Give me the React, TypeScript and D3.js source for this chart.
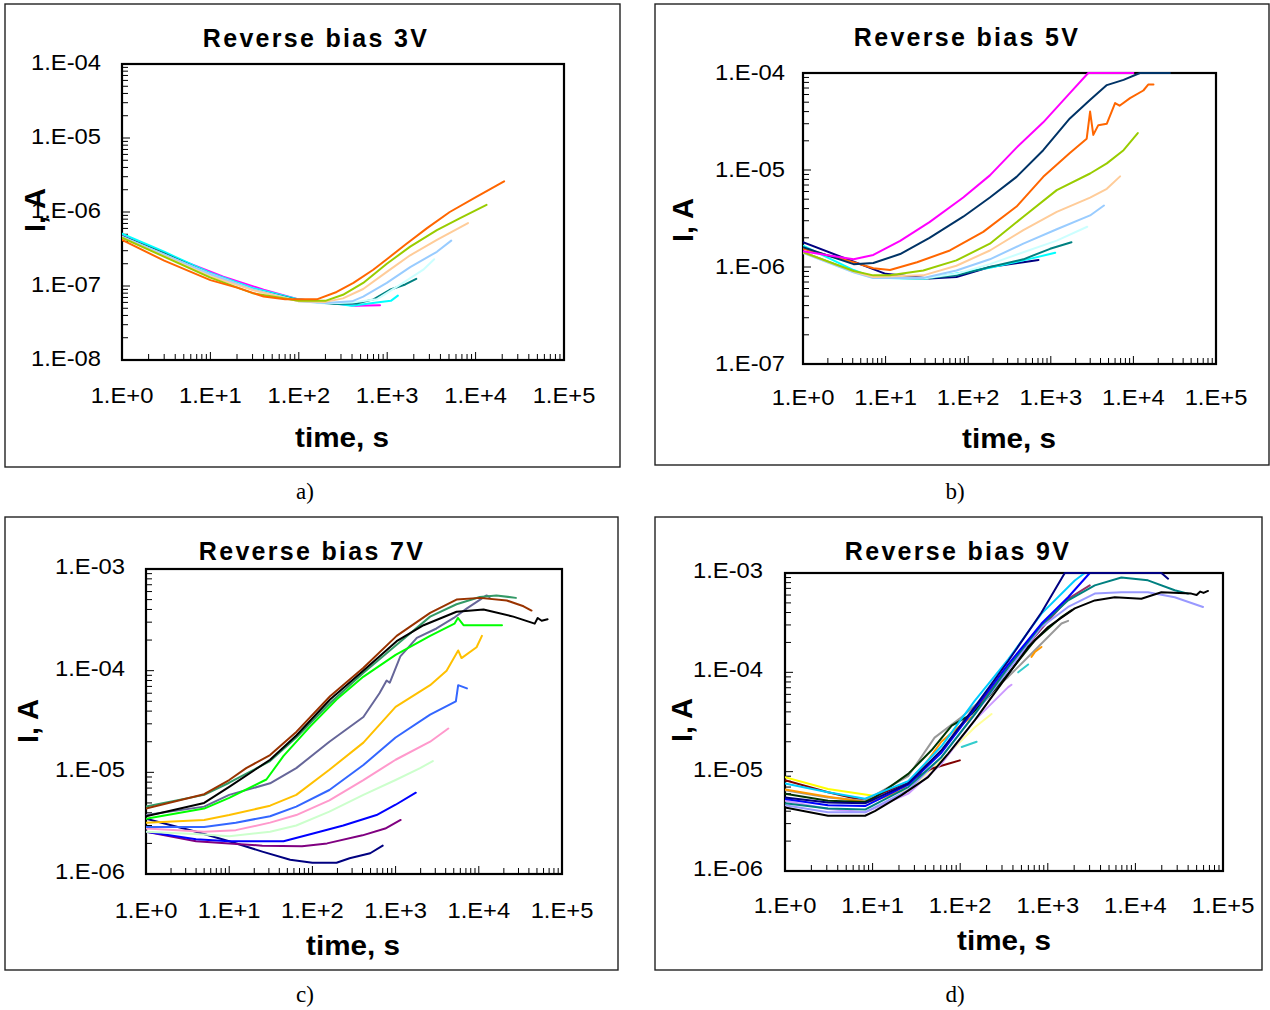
import React from "react";
import * as d3 from "d3";

type Pt = [number, number];

// ---------- tick values / labels ----------
const X_TICKS = [1, 10, 100, 1000, 10000, 100000];
const X_TICK_LABELS = ["1.E+0", "1.E+1", "1.E+2", "1.E+3", "1.E+4", "1.E+5"];
const Y_TICKS_A = [1e-8, 1e-7, 1e-6, 1e-5, 1e-4];
const Y_TICK_LABELS_A = ["1.E-08", "1.E-07", "1.E-06", "1.E-05", "1.E-04"];
const Y_TICKS_B = [1e-7, 1e-6, 1e-5, 1e-4];
const Y_TICK_LABELS_B = ["1.E-07", "1.E-06", "1.E-05", "1.E-04"];
const Y_TICKS_CD = [1e-6, 1e-5, 1e-4, 1e-3];
const Y_TICK_LABELS_CD = ["1.E-06", "1.E-05", "1.E-04", "1.E-03"];

const TITLES = ["Reverse bias 3V", "Reverse bias 5V", "Reverse bias 7V", "Reverse bias 9V"];
const CAPTIONS = ["a)", "b)", "c)", "d)"];
const X_TITLE = "time, s";
const Y_TITLE = "I, A";

// ---------- panel a: reverse bias 3V ----------
const SERIES_A: Pt[][] = [
  [[1, 4.8e-7], [4, 2.4e-7], [14, 1.34e-7], [40, 8.9e-8], [95, 6.7e-8], [200, 6.0e-8], [440, 5.4e-8], [830, 5.5e-8]],
  [[1, 5.1e-7], [3, 2.9e-7], [10, 1.5e-7], [30, 9.4e-8], [100, 6.6e-8], [250, 5.8e-8], [400, 5.4e-8], [760, 6.0e-8], [1100, 6.3e-8], [1320, 7.4e-8]],
  [[1, 4.7e-7], [3, 2.75e-7], [10, 1.45e-7], [30, 9.0e-8], [100, 6.4e-8], [250, 5.7e-8], [450, 5.8e-8], [700, 6.6e-8], [1070, 8.9e-8], [1600, 1.05e-7], [2130, 1.25e-7]],
  [[1, 4.6e-7], [10, 1.45e-7], [30, 9.0e-8], [100, 6.3e-8], [200, 5.8e-8], [400, 6.0e-8], [760, 6.6e-8], [1510, 1.1e-7], [2560, 1.66e-7], [3400, 2.3e-7]],
  [[1, 4.6e-7], [10, 1.45e-7], [30, 9.0e-8], [100, 6.2e-8], [200, 5.9e-8], [400, 6.2e-8], [535, 7.2e-8], [990, 1.1e-7], [1820, 1.8e-7], [3650, 2.9e-7], [5300, 4.1e-7]],
  [[1, 4.5e-7], [10, 1.35e-7], [30, 8.8e-8], [100, 6.2e-8], [200, 6.1e-8], [316, 6.8e-8], [535, 9.1e-8], [990, 1.55e-7], [1820, 2.6e-7], [3650, 4.2e-7], [8200, 7.1e-7]],
  [[1, 4.5e-7], [10, 1.3e-7], [30, 8.0e-8], [100, 6.3e-8], [200, 6.3e-8], [316, 7.6e-8], [535, 1.1e-7], [990, 2.0e-7], [1820, 3.4e-7], [3650, 5.7e-7], [6600, 8.2e-7], [13300, 1.25e-6]],
  [[1, 4.2e-7], [3, 2.2e-7], [10, 1.2e-7], [20, 9.5e-8], [40, 7.2e-8], [70, 6.6e-8], [160, 6.6e-8], [268, 8.3e-8], [415, 1.1e-7], [695, 1.66e-7], [990, 2.3e-7], [1600, 3.6e-7], [2800, 6.0e-7], [5100, 1.0e-6], [10200, 1.6e-6], [21000, 2.6e-6]],
];
const COLORS_A = ["#FF00FF", "#00FFFF", "#008080", "#CCFFFF", "#99CCFF", "#FFCC99", "#99CC00", "#FF6600"];

// ---------- panel b: reverse bias 5V ----------
const SERIES_B: Pt[][] = [
  [[1, 1.8e-6], [10, 8.5e-7], [34, 7.6e-7], [72, 7.9e-7], [183, 1.0e-6], [465, 1.12e-6], [710, 1.18e-6]],
  [[1, 1.66e-6], [4.1, 9.3e-7], [7.1, 7.8e-7], [28.6, 7.5e-7], [183, 9.8e-7], [465, 1.17e-6], [1130, 1.4e-6]],
  [[1, 1.42e-6], [4.1, 9.0e-7], [7.1, 7.8e-7], [28.6, 7.6e-7], [72, 8.2e-7], [183, 1.0e-6], [465, 1.2e-6], [980, 1.54e-6], [1780, 1.8e-6]],
  [[1, 1.4e-6], [4.1, 8.8e-7], [7.1, 7.7e-7], [28.6, 7.6e-7], [72, 8.5e-7], [183, 1.07e-6], [465, 1.42e-6], [1180, 1.87e-6], [2760, 2.6e-6]],
  [[1, 1.4e-6], [4.1, 8.8e-7], [7.1, 7.7e-7], [28.6, 7.7e-7], [72, 9.2e-7], [183, 1.2e-6], [465, 1.74e-6], [1180, 2.45e-6], [2990, 3.4e-6], [4400, 4.3e-6]],
  [[1, 1.42e-6], [4.1, 9.0e-7], [7.1, 7.9e-7], [28.6, 8.2e-7], [72, 1.03e-6], [183, 1.48e-6], [465, 2.4e-6], [1180, 3.7e-6], [2990, 5.2e-6], [4770, 6.4e-6], [6900, 8.6e-6]],
  [[1, 1.42e-6], [4.1, 9.1e-7], [7.1, 8.2e-7], [11.3, 8.2e-7], [28.6, 9.2e-7], [72, 1.17e-6], [183, 1.74e-6], [465, 3.3e-6], [1180, 6.2e-6], [2990, 9.2e-6], [4770, 1.17e-5], [7600, 1.6e-5], [11300, 2.4e-5]],
  [[1, 1.54e-6], [4.1, 1.12e-6], [7.1, 9.7e-7], [11.3, 9.3e-7], [24, 1.12e-6], [60, 1.48e-6], [152, 2.3e-6], [385, 4.2e-6], [810, 8.5e-6], [1700, 1.5e-5], [2720, 2.1e-5], [2990, 4.0e-5], [3270, 2.3e-5], [3760, 2.9e-5], [4770, 3.0e-5], [6000, 4.9e-5], [6800, 4.6e-5], [9100, 5.5e-5], [13200, 6.6e-5], [15100, 7.6e-5], [17500, 7.6e-5]],
  [[1, 1.6e-6], [4.1, 1.07e-6], [7.1, 1.1e-6], [15, 1.36e-6], [34, 2.0e-6], [87, 3.3e-6], [183, 5.2e-6], [385, 8.5e-6], [810, 1.6e-5], [1700, 3.4e-5], [3000, 5.3e-5], [4770, 7.5e-5], [7600, 8.5e-5], [12000, 1e-4], [27700, 1e-4]],
  [[1, 1.45e-6], [4.1, 1.2e-6], [7.1, 1.33e-6], [15, 1.86e-6], [34, 2.9e-6], [87, 5.2e-6], [183, 8.8e-6], [385, 1.7e-5], [810, 3.1e-5], [1700, 6.2e-5], [2840, 1e-4], [10000, 1e-4]],
];
const COLORS_B = ["#000080", "#00FFFF", "#008080", "#CCFFFF", "#99CCFF", "#FFCC99", "#99CC00", "#FF6600", "#003366", "#FF00FF"];

// ---------- panel c: reverse bias 7V ----------
const SERIES_C: Pt[][] = [
  [[1, 3.5e-6], [4, 2.6e-6], [10, 2.1e-6], [25, 1.66e-6], [54, 1.38e-6], [100, 1.29e-6], [195, 1.29e-6], [280, 1.43e-6], [495, 1.6e-6], [700, 1.9e-6]],
  [[1, 2.6e-6], [4, 2.1e-6], [10, 2.0e-6], [25, 1.9e-6], [75, 1.87e-6], [150, 2.0e-6], [400, 2.4e-6], [750, 2.8e-6], [1150, 3.4e-6]],
  [[1, 2.6e-6], [4, 2.2e-6], [10, 2.1e-6], [45, 2.1e-6], [102, 2.5e-6], [235, 3.0e-6], [590, 3.8e-6], [1000, 4.8e-6], [1750, 6.3e-6]],
  [[1, 2.6e-6], [5, 2.45e-6], [10, 2.35e-6], [31, 2.6e-6], [64, 3.0e-6], [160, 4.1e-6], [410, 6.0e-6], [1000, 8.4e-6], [1970, 1.1e-5], [2800, 1.29e-5]],
  [[1, 2.8e-6], [5, 2.6e-6], [12, 2.7e-6], [31, 3.2e-6], [64, 3.8e-6], [160, 5.3e-6], [410, 8.4e-6], [1000, 1.33e-5], [2600, 2.0e-5], [4300, 2.7e-5]],
  [[1, 2.9e-6], [5, 2.9e-6], [12, 3.2e-6], [31, 3.7e-6], [64, 4.6e-6], [160, 6.7e-6], [410, 1.18e-5], [1000, 2.2e-5], [2600, 3.7e-5], [5300, 5.0e-5], [5650, 7.2e-5], [7200, 6.7e-5]],
  [[1, 3.2e-6], [5, 3.4e-6], [10, 3.8e-6], [31, 4.7e-6], [64, 6.0e-6], [160, 1.06e-5], [410, 1.96e-5], [1000, 4.4e-5], [2600, 7.2e-5], [4100, 1.0e-4], [5650, 1.58e-4], [6200, 1.33e-4], [9400, 1.7e-4], [10900, 2.2e-4]],
  [[1, 3.8e-6], [5, 4.6e-6], [10, 6.0e-6], [31, 7.8e-6], [64, 1.1e-5], [160, 2.0e-5], [410, 3.5e-5], [640, 6.0e-5], [780, 8.0e-5], [850, 7.6e-5], [1140, 1.38e-4], [1800, 2.1e-4], [3100, 2.6e-4], [5000, 3.3e-4], [7200, 4.1e-4], [12400, 5.5e-4], [13500, 5.3e-4]],
  [[1, 3.5e-6], [5, 4.4e-6], [10, 5.6e-6], [28, 8.5e-6], [45, 1.45e-5], [93, 2.8e-5], [195, 5.2e-5], [408, 8.7e-5], [1000, 1.43e-4], [2600, 2.2e-4], [5100, 2.9e-4], [5600, 3.3e-4], [6550, 2.8e-4], [11400, 2.8e-4], [19000, 2.8e-4]],
  [[1, 4.6e-6], [5, 6.0e-6], [10, 7.9e-6], [31, 1.29e-5], [64, 2.2e-5], [163, 4.8e-5], [408, 9.5e-5], [1030, 1.8e-4], [2600, 3.4e-4], [5400, 4.5e-4], [10300, 5.3e-4], [16300, 5.5e-4], [27900, 5.2e-4]],
  [[1, 3.7e-6], [5, 5.0e-6], [10, 7.2e-6], [31, 1.33e-5], [64, 2.3e-5], [163, 5.2e-5], [408, 1.0e-4], [1030, 1.95e-4], [2170, 2.8e-4], [5400, 3.8e-4], [11400, 4.0e-4], [26000, 3.4e-4], [47000, 2.9e-4], [51000, 3.3e-4], [57000, 3.1e-4], [67000, 3.2e-4]],
  [[1, 4.4e-6], [5, 6.1e-6], [10, 8.4e-6], [16, 1.1e-5], [31, 1.48e-5], [64, 2.5e-5], [163, 5.6e-5], [408, 1.06e-4], [1030, 2.2e-4], [2600, 3.7e-4], [5400, 5.0e-4], [10300, 5.2e-4], [21700, 4.9e-4], [34500, 4.3e-4], [43000, 3.9e-4]],
];
const COLORS_C = ["#000080", "#800080", "#0000FF", "#CCFFCC", "#FF99CC", "#3366FF", "#FFC000", "#666699", "#00FF00", "#339966", "#000000", "#993300"];

// ---------- panel d: reverse bias 9V ----------
const SERIES_D: Pt[][] = [
  [[1, 8.8e-6], [3.1, 6.7e-6], [8.2, 5.9e-6], [10.6, 5.7e-6]],
  [[10.6, 5.6e-6], [25.5, 6.5e-6], [61, 1.3e-5], [147, 2.8e-5], [228, 3.8e-5]],
  [[1, 8.2e-6], [3.1, 6.2e-6], [8.2, 5.1e-6], [25.5, 7.9e-6], [47, 1.07e-5], [73, 1.2e-5], [99, 1.3e-5]],
  [[1, 5.1e-6], [3.1, 4.2e-6], [8.2, 3.9e-6], [25.5, 6.0e-6], [61, 1.2e-5], [147, 3.3e-5], [353, 7.1e-5], [385, 7.5e-5]],
  [[1, 6.5e-6], [3.1, 5.5e-6], [8.2, 5.1e-6], [25.5, 9.0e-6], [51, 2.2e-5], [104, 3.55e-5], [353, 9.0e-5], [1432, 3.1e-4], [1706, 3.3e-4]],
  [[1, 6.6e-6], [3.1, 5.6e-6], [8.2, 4.95e-6], [10.6, 5.1e-6], [21.4, 6.5e-6], [33, 9.5e-6], [40, 1.2e-5], [61, 2.0e-5], [95, 2.8e-5], [135, 3.55e-5]],
  [[651, 1.43e-4], [711, 1.6e-4], [847, 1.8e-4]],
  [[104, 1.77e-5], [154, 2.0e-5]],
  [[459, 1.0e-4], [597, 1.2e-4]],
  [[147, 4.2e-5], [353, 1.1e-4], [1009, 3.3e-4], [1706, 5.5e-4], [3013, 7.5e-4]],
  [[1, 6.0e-6], [3.1, 5.1e-6], [8.2, 4.95e-6], [10.6, 5.5e-6], [25.5, 9.5e-6], [47, 1.64e-5], [80, 2.9e-5], [135, 3.8e-5], [208, 5.6e-5], [353, 9.7e-5], [711, 2.1e-4], [1432, 3.6e-4], [1862, 4.2e-4]],
  [[1, 7.6e-6], [3.1, 6.2e-6], [8.2, 5.35e-6], [25.5, 8.0e-6], [61, 1.8e-5], [147, 5.2e-5], [353, 1.35e-4], [847, 3.9e-4], [2032, 8.4e-4], [2642, 1e-3]],
  [[1, 4.6e-6], [3.1, 3.9e-6], [8.2, 3.9e-6], [25.5, 6.5e-6], [61, 1.4e-5], [147, 3.8e-5], [353, 1.05e-4], [847, 2.86e-4], [1706, 4.55e-4], [3437, 6.2e-4], [6918, 6.4e-4], [13900, 6.4e-4], [28100, 5.7e-4], [59100, 4.55e-4]],
  [[1, 4.8e-6], [3.1, 4.25e-6], [8.2, 4.15e-6], [25.5, 7.0e-6], [61, 1.4e-5], [147, 3.8e-5], [353, 1.13e-4], [847, 3.0e-4], [1706, 5.3e-4], [3437, 7.5e-4], [6918, 9.0e-4], [13900, 8.44e-4], [28100, 6.7e-4], [39900, 6.2e-4]],
  [[1, 5.3e-6], [3.1, 4.6e-6], [8.2, 4.5e-6], [25.5, 7.4e-6], [61, 1.55e-5], [147, 4.3e-5], [353, 1.2e-4], [847, 3.1e-4], [1706, 5.7e-4], [3013, 1e-3]],
  [[1, 5.5e-6], [3.1, 4.9e-6], [8.2, 4.8e-6], [25.5, 7.6e-6], [61, 1.64e-5], [147, 4.5e-5], [353, 1.3e-4], [847, 4.0e-4], [1563, 1e-3], [19800, 1e-3], [23600, 8.77e-4]],
  [[1, 4.35e-6], [3.1, 3.6e-6], [8.2, 3.6e-6], [10.6, 4.0e-6], [21.4, 5.8e-6], [43, 8.8e-6], [73, 1.52e-5], [147, 3.3e-5], [296, 7.7e-5], [597, 1.8e-4], [1009, 2.86e-4], [2032, 4.4e-4], [3437, 5.3e-4], [5808, 5.7e-4], [11700, 5.5e-4], [19800, 6.4e-4], [43500, 6.2e-4], [50000, 6.0e-4], [55000, 6.5e-4], [60000, 6.3e-4], [67400, 6.6e-4]],
];
const COLORS_D = ["#FFFF00", "#FFFF99", "#800000", "#CC99FF", "#999999", "#FF9900", "#FF9900", "#33CCCC", "#33CCCC", "#993366", "#003300", "#00CCFF", "#9999FF", "#008080", "#0000FF", "#000080", "#000000"];

// ---------- layout ----------
const SANS = "'Liberation Sans', Arial, Helvetica, sans-serif";
const SERIF = "'Liberation Serif', 'Times New Roman', serif";

interface PanelProps {
  id: string;
  box: [number, number, number, number];
  plot: { x0: number; x1: number; y0: number; y1: number };
  yDomain: [number, number];
  yTicks: number[];
  yTickLabels: string[];
  series: Pt[][];
  colors: string[];
  title: string;
  caption: string;
  titlePos: [number, number];
  xTitlePos: [number, number];
  yTitlePos: [number, number];
  captionPos: [number, number];
  yLabelGap: number;
  yLabelDy: number;
  xLabelOffset: number;
}

function SText(props: { x: number; y: number; sx?: number; anchor?: string; size: number; weight?: string; family?: string; spacing?: number; children: React.ReactNode }) {
  const { x, y, sx = 1, anchor = "middle", size, weight = "normal", family = SANS, spacing = 0, children } = props;
  return (
    <g transform={`translate(${x},${y}) scale(${sx},1)`}>
      <text x={0} y={0} textAnchor={anchor} fontSize={size} fontWeight={weight} fontFamily={family} letterSpacing={spacing} fill="#000">
        {children}
      </text>
    </g>
  );
}

function logMinorValues(lo: number, hi: number): { v: number; major: boolean }[] {
  const out: { v: number; major: boolean }[] = [];
  const e0 = Math.round(Math.log10(lo));
  const e1 = Math.round(Math.log10(hi));
  for (let e = e0; e <= e1; e++) {
    for (let m = 1; m <= 9; m++) {
      if (e === e1 && m > 1) break;
      out.push({ v: m * Math.pow(10, e), major: m === 1 });
    }
  }
  return out;
}

function Panel(p: PanelProps) {
  const { plot } = p;
  const x = d3.scaleLog().domain([1, 1e5]).range([plot.x0, plot.x1]);
  const y = d3.scaleLog().domain(p.yDomain).range([plot.y1, plot.y0]);
  const line = d3
    .line<Pt>()
    .x((d) => x(d[0]))
    .y((d) => y(d[1]));
  const xMinor = logMinorValues(1, 1e5);
  const yMinor = logMinorValues(p.yDomain[0], p.yDomain[1]);
  const [bx, by, bw, bh] = p.box;
  return (
    <g>
      <defs>
        <clipPath id={`clip-${p.id}`}>
          <rect x={plot.x0} y={plot.y0 - 1.5} width={plot.x1 - plot.x0} height={plot.y1 - plot.y0 + 1.5} />
        </clipPath>
      </defs>
      <rect x={bx} y={by} width={bw} height={bh} fill="none" stroke="#222" strokeWidth={1.4} />
      <SText x={p.titlePos[0]} y={p.titlePos[1]} size={25} weight="bold" spacing={2.3}>
        {p.title}
      </SText>
      {xMinor.map((t, i) => (
        <line key={`xt${i}`} x1={x(t.v)} x2={x(t.v)} y1={plot.y1} y2={plot.y1 - (t.major ? 8 : 6)} stroke="#000" strokeWidth={1} />
      ))}
      {yMinor.map((t, i) => (
        <line key={`yt${i}`} x1={plot.x0} x2={plot.x0 + (t.major ? 8 : 6)} y1={y(t.v)} y2={y(t.v)} stroke="#000" strokeWidth={1} />
      ))}
      <rect x={plot.x0} y={plot.y0} width={plot.x1 - plot.x0} height={plot.y1 - plot.y0} fill="none" stroke="#000" strokeWidth={2.2} />
      <g clipPath={`url(#clip-${p.id})`}>
        {p.series.map((s, i) => (
          <path key={i} d={line(s) || ""} fill="none" stroke={p.colors[i]} strokeWidth={2} strokeLinejoin="round" strokeLinecap="round" />
        ))}
      </g>
      {X_TICKS.map((t, i) => (
        <SText key={`xl${i}`} x={x(t)} y={plot.y1 + p.xLabelOffset} size={22} sx={1.08}>
          {X_TICK_LABELS[i]}
        </SText>
      ))}
      {p.yTicks.map((t, i) => (
        <SText key={`yl${i}`} x={plot.x0 - p.yLabelGap} y={y(t) + p.yLabelDy} size={22} sx={1.08} anchor="end">
          {p.yTickLabels[i]}
        </SText>
      ))}
      <SText x={p.xTitlePos[0]} y={p.xTitlePos[1]} size={28} weight="bold" sx={1.06}>
        {X_TITLE}
      </SText>
      <text
        transform={`translate(${p.yTitlePos[0]},${p.yTitlePos[1]}) rotate(-90)`}
        textAnchor="middle"
        dominantBaseline="central"
        fontSize={29}
        fontWeight="bold"
        fontFamily={SANS}
        fill="#000"
      >
        {Y_TITLE}
      </text>
      <SText x={p.captionPos[0]} y={p.captionPos[1]} size={23} family={SERIF}>
        {p.caption}
      </SText>
    </g>
  );
}

export default function App() {
  return (
    <svg width={1270} height={1010} style={{ position: "absolute", left: 0, top: 0, background: "#fff" }}>
      <rect x={0} y={0} width={1270} height={1010} fill="#fff" />
      <Panel
        id="a"
        box={[5, 4, 615, 463]}
        plot={{ x0: 122, x1: 564, y0: 64, y1: 360 }}
        yDomain={[1e-8, 1e-4]}
        yTicks={Y_TICKS_A}
        yTickLabels={Y_TICK_LABELS_A}
        series={SERIES_A}
        colors={COLORS_A}
        title={TITLES[0]}
        caption={CAPTIONS[0]}
        titlePos={[316, 47]}
        xTitlePos={[342, 447]}
        yTitlePos={[35, 210]}
        captionPos={[305, 499]}
        yLabelGap={21}
        yLabelDy={5.5}
        xLabelOffset={43}
      />
      <Panel
        id="b"
        box={[655, 4, 614, 461]}
        plot={{ x0: 803, x1: 1216, y0: 73, y1: 364 }}
        yDomain={[1e-7, 1e-4]}
        yTicks={Y_TICKS_B}
        yTickLabels={Y_TICK_LABELS_B}
        series={SERIES_B}
        colors={COLORS_B}
        title={TITLES[1]}
        caption={CAPTIONS[1]}
        titlePos={[967, 46]}
        xTitlePos={[1009, 448]}
        yTitlePos={[683, 220]}
        captionPos={[955, 499]}
        yLabelGap={18}
        yLabelDy={7}
        xLabelOffset={41}
      />
      <Panel
        id="c"
        box={[5, 517, 613, 453]}
        plot={{ x0: 146, x1: 562, y0: 569, y1: 874 }}
        yDomain={[1e-6, 1e-3]}
        yTicks={Y_TICKS_CD}
        yTickLabels={Y_TICK_LABELS_CD}
        series={SERIES_C}
        colors={COLORS_C}
        title={TITLES[2]}
        caption={CAPTIONS[2]}
        titlePos={[312, 560]}
        xTitlePos={[353, 955]}
        yTitlePos={[28, 721]}
        captionPos={[305, 1002]}
        yLabelGap={21}
        yLabelDy={5}
        xLabelOffset={44}
      />
      <Panel
        id="d"
        box={[655, 517, 607, 453]}
        plot={{ x0: 785, x1: 1223, y0: 573, y1: 871 }}
        yDomain={[1e-6, 1e-3]}
        yTicks={Y_TICKS_CD}
        yTickLabels={Y_TICK_LABELS_CD}
        series={SERIES_D}
        colors={COLORS_D}
        title={TITLES[3]}
        caption={CAPTIONS[3]}
        titlePos={[958, 560]}
        xTitlePos={[1004, 950]}
        yTitlePos={[682, 720]}
        captionPos={[955, 1002]}
        yLabelGap={22}
        yLabelDy={5}
        xLabelOffset={42}
      />
    </svg>
  );
}
